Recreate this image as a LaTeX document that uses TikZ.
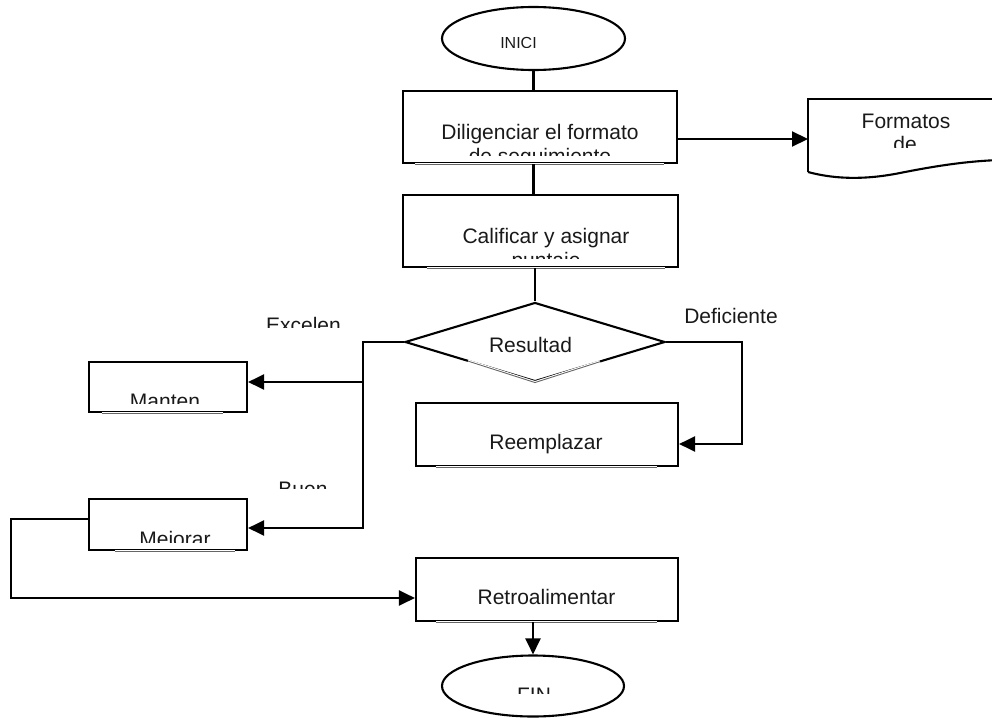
\documentclass[tikz,border=0pt]{standalone}
\usepackage{fontspec}
\setmainfont{Liberation Sans}
\usetikzlibrary{shapes.geometric,arrows.meta}
\begin{document}
\begin{tikzpicture}[x=1pt,y=-1pt,
  line width=2.1pt,
  every node/.style={font=\fontsize{21}{24}\selectfont},
  stepbox/.style={draw, rectangle, inner sep=0pt},
  term/.style={draw, ellipse, inner sep=0pt},
  decision/.style={draw, diamond, inner sep=0pt, aspect=3.29},
  lbl/.style={inner sep=0pt, anchor=base, text=black!90},
  arr/.style={-{Triangle[length=16pt,width=15pt]}},
  gapline/.style={draw=white, line width=3pt, postaction={draw=black!60, line width=0.9pt}}]
\useasboundingbox (0,0) rectangle (992,717);

% ---- shapes ----
\node[term, minimum width=183pt, minimum height=63pt] (ini) at (533.5,38.5) {};
\node[stepbox, minimum width=274pt, minimum height=72pt] (d1) at (540,127) {};
\node[stepbox, minimum width=275pt, minimum height=72pt] (d2) at (540.5,231) {};
\node[decision, minimum width=260pt, minimum height=79pt] (res) at (535,342) {};
\node[stepbox, minimum width=158pt, minimum height=50pt] (man) at (168,387) {};
\node[stepbox, minimum width=262pt, minimum height=63pt] (rem) at (547,434.5) {};
\node[stepbox, minimum width=158pt, minimum height=51pt] (mej) at (168,524.5) {};
\node[stepbox, minimum width=262pt, minimum height=63pt] (ret) at (547,589.5) {};
\node[term, minimum width=182pt, minimum height=61pt] (fin) at (533,686) {};

% document symbol (runs past the right edge)
\begin{scope}
  \clip (700,80) rectangle (992,200);
  \draw (808,172) -- (808,99) -- (1000,99);
  \draw (808,172) .. controls (830,178) and (860,181) .. (900,173)
                  .. controls (940,165) and (970,161) .. (1000,160);
\end{scope}
\coordinate (fmtL) at (808,139);

% light bottom segments where the text frames overlap the outlines
\draw[gapline] ([xshift=13pt]d1.south west) -- ([xshift=-14pt]d1.south east);
\draw[gapline] ([xshift=25pt]d2.south west) -- ([xshift=-14pt]d2.south east);
\draw[gapline] ([xshift=14pt]man.south west) -- ([xshift=-25pt]man.south east);
\draw[gapline] ([xshift=27pt]mej.south west) -- ([xshift=-13pt]mej.south east);
\draw[gapline] ([xshift=21pt]rem.south west) -- ([xshift=-22pt]rem.south east);
\draw[gapline] ([xshift=21pt]ret.south west) -- ([xshift=-22pt]ret.south east);
\draw[gapline] (468,361.1) -- (res.south) -- (600,361.7);

% ---- texts ----
\begin{scope}
  \clip (470,20) rectangle (600,48);
  \node[lbl, font=\fontsize{16}{19}\selectfont] (tini) at (518.5,48.5) {INICI};
\end{scope}
\node[lbl] (td1a) at (540,139) {Diligenciar el formato};
\begin{scope}
  \clip (405,145) rectangle (675,155);
  \node[lbl] (td1b) at (540,163) {de seguimiento};
\end{scope}
\node[lbl] (tfa) at (906,128) {Formatos};
\begin{scope}
  \clip (820,134) rectangle (990,147);
  \node[lbl] (tfb) at (905,151) {de};
\end{scope}
\node[lbl] (td2a) at (546,243) {Calificar y asignar};
\begin{scope}
  \clip (410,249) rectangle (670,258);
  \node[lbl] (td2b) at (546,267) {puntaje};
\end{scope}
\node[lbl] (tres) at (530.5,352) {Resultad};
\node[lbl] (tdef) at (731,323) {Deficiente};
\begin{scope}
  \clip (250,300) rectangle (360,327);
  \node[lbl] (texc) at (303.5,332) {Excelen};
\end{scope}
\begin{scope}
  \clip (95,380) rectangle (240,403);
  \node[lbl] (tman) at (165,408) {Manten};
\end{scope}
\node[lbl] (trem) at (546,449) {Reemplazar};
\begin{scope}
  \clip (260,470) rectangle (350,488);
  \node[lbl] (tbue) at (303,496) {Buen};
\end{scope}
\begin{scope}
  \clip (95,515) rectangle (240,542);
  \node[lbl] (tmej) at (175,546) {Mejorar};
\end{scope}
\node[lbl] (tret) at (546.5,604) {Retroalimentar};
\begin{scope}
  \clip (470,670) rectangle (600,693);
  \node[lbl] (tfin) at (534,702) {FIN};
\end{scope}

% ---- connectors ----
\coordinate (jman) at (363,382);
\coordinate (jmej) at (363,528);
\coordinate (jdef) at (742,444);
\coordinate (loopTop) at (11,519);
\coordinate (loopBot) at (11,598);

\draw (ini.south) -- (ini.south |- d1.north);
\draw (ini.south |- d1.south) -- (ini.south |- d2.north);
\draw (res.north |- d2.south) -- (res.north);
\draw[arr] (d1.east |- fmtL) -- (fmtL);
\draw[arr] (res.west) -| (jmej) -- (mej.east |- jmej);
\draw[arr] (jman) -- (man.east |- jman);
\draw[arr] (res.east) -| (jdef) -- (rem.east |- jdef);
\draw[arr] (mej.west |- loopTop) -- (loopTop) -- (loopBot) -- (ret.west |- loopBot);
\draw[arr] (fin.north |- ret.south) -- (fin.north);
\end{tikzpicture}
\end{document}
